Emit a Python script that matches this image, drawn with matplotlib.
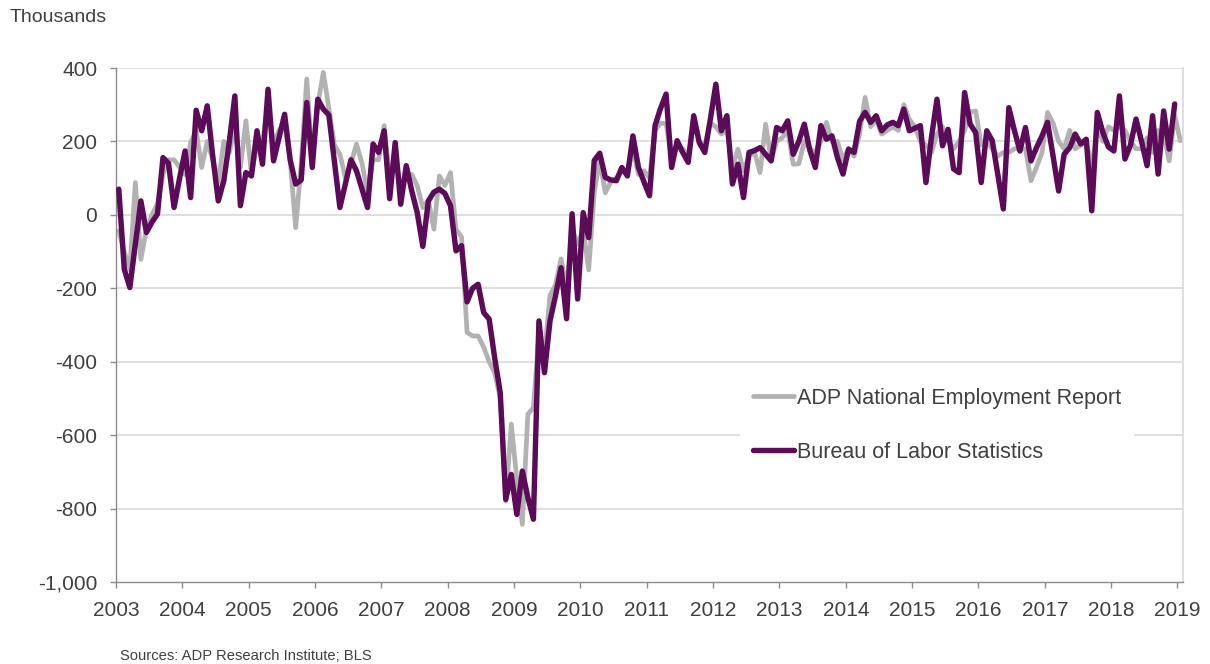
import matplotlib
matplotlib.use("Agg")
import matplotlib.pyplot as plt
from matplotlib.ticker import FixedLocator, FixedFormatter
import numpy as np

plt.rcParams['font.family'] = ['Liberation Sans', 'DejaVu Sans']

# ---- data (thousands, monthly change) ----
start_year = 2003
bls = [
    70, -148, -198, -80, 38, -48, -20, 2, 156, 140, 20, 100,            # 2003
    174, 47, 285, 229, 297, 160, 38, 93, 200, 324, 25, 115,             # 2004
    106, 229, 138, 342, 147, 210, 274, 150, 84, 95, 306, 129,           # 2005
    315, 288, 272, 145, 20, 85, 150, 120, 70, 20, 193, 170,             # 2006
    229, 44, 197, 29, 134, 65, 5, -86, 38, 62, 70, 58,                  # 2007
    25, -98, -84, -237, -200, -189, -266, -284, -390, -484, -775, -707, # 2008
    -816, -698, -770, -829, -289, -430, -289, -220, -144, -283, 3, -229,# 2009
    6, -62, 148, 168, 102, 95, 93, 129, 106, 215, 129, 90,              # 2010
    52, 243, 290, 329, 129, 202, 170, 143, 270, 197, 170, 260,          # 2011
    356, 229, 270, 84, 138, 47, 170, 175, 183, 165, 147, 238,           # 2012
    229, 256, 165, 200, 247, 176, 129, 243, 206, 215, 156, 111,         # 2013
    179, 170, 255, 279, 252, 270, 229, 245, 252, 243, 288, 229,         # 2014
    236, 243, 88, 211, 315, 188, 233, 125, 115, 333, 247, 224,          # 2015
    88, 229, 202, 110, 16, 292, 230, 174, 238, 147, 183, 215,           # 2016
    252, 160, 65, 165, 183, 220, 193, 206, 11, 279, 225, 185,           # 2017
    174, 324, 152, 190, 261, 200, 134, 270, 111, 283, 179, 302,         # 2018
]
adp = [
    -44, -100, -150, 88, -121, -40, 0, 30, 110, 150, 150, 130,          # 2003
    110, 197, 230, 129, 200, 150, 90, 200, 170, 240, 130, 256,          # 2004
    110, 190, 200, 300, 193, 230, 250, 150, -35, 140, 370, 150,         # 2005
    300, 388, 290, 190, 165, 100, 140, 193, 140, 60, 150, 150,          # 2006
    243, 100, 150, 80, 110, 110, 79, 20, 40, -39, 106, 80,              # 2007
    115, -40, -60, -320, -330, -330, -360, -400, -430, -500, -780, -570,# 2008
    -720, -843, -543, -525, -320, -380, -220, -190, -120, -200, -40, -80,# 2009
    -40, -150, 60, 150, 60, 90, 100, 120, 110, 180, 110, 120,           # 2010
    100, 230, 250, 248, 150, 190, 180, 160, 250, 200, 190, 250,         # 2011
    240, 220, 230, 130, 179, 120, 160, 170, 115, 247, 150, 200,         # 2012
    210, 230, 138, 139, 200, 180, 170, 200, 252, 200, 200, 150,         # 2013
    180, 160, 220, 320, 240, 260, 220, 230, 240, 230, 300, 260,         # 2014
    240, 200, 190, 170, 220, 240, 200, 180, 200, 230, 280, 283,         # 2015
    190, 200, 180, 160, 170, 170, 180, 180, 180, 93, 129, 170,          # 2016
    279, 250, 200, 180, 230, 180, 190, 200, 130, 240, 200, 240,         # 2017
    230, 240, 230, 200, 180, 180, 210, 170, 230, 220, 147, 271,         # 2018
    202,                                                                # 2019
]
years = list(range(2003, 2020))
yticks = [400, 200, 0, -200, -400, -600, -800, -1000]
ytick_labels = ["400", "200", "0", "-200", "-400", "-600", "-800", "-1,000"]
labels = ["ADP National Employment Report", "Bureau of Labor Statistics"]

x_bls = start_year + (np.arange(len(bls)) + 0.5) / 12.0
x_adp = start_year + (np.arange(len(adp)) + 0.5) / 12.0

W, H = 1210, 664
fig = plt.figure(figsize=(W / 100, H / 100), dpi=100)
ax = fig.add_axes([116 / W, 1 - 582 / H, (1183 - 116) / W, (582 - 68) / H])

grey = '#b2b2b2'
purple = '#5c0b59'
txt = '#404040'
axis_col = '#8c8c8c'

for y in yticks[:-1]:
    ax.axhline(y, color='#d9d9d9', lw=1.2, zorder=0)

ax.plot(x_adp, adp, color=grey, lw=3.4, solid_joinstyle='round',
        solid_capstyle='round', label=labels[0], zorder=2)
ax.plot(x_bls, bls, color=purple, lw=3.9, solid_joinstyle='round',
        solid_capstyle='round', label=labels[1], zorder=3)

ax.set_xlim(2003, 2019 + 1 / 12)
ax.set_ylim(-1000, 400)

ax.yaxis.set_major_locator(FixedLocator(yticks))
ax.yaxis.set_major_formatter(FixedFormatter(ytick_labels))
ax.xaxis.set_major_locator(FixedLocator(years))
ax.xaxis.set_major_formatter(FixedFormatter([str(y) for y in years]))

ax.spines['top'].set_visible(False)
ax.spines['right'].set_color('#d9d9d9')
ax.spines['right'].set_linewidth(1.2)
ax.spines['left'].set_color(axis_col)
ax.spines['bottom'].set_color(axis_col)
ax.spines['left'].set_linewidth(1.0)
ax.spines['bottom'].set_linewidth(1.0)

ax.tick_params(axis='y', direction='out', length=4.5, width=1.0, color=axis_col,
               labelsize=15, labelcolor=txt, pad=9)
ax.tick_params(axis='x', direction='out', length=4.5, width=1.0, color=axis_col,
               labelsize=15, labelcolor=txt, pad=9)

leg = ax.legend(loc='center left', bbox_to_anchor=(0.585, 0.305), frameon=True,
                facecolor='white', edgecolor='none', framealpha=1.0,
                fontsize=15.5, handlelength=1.9, handletextpad=0.12,
                labelspacing=1.55, borderpad=0.6, borderaxespad=0.0)
for t in leg.get_texts():
    t.set_color(txt)

fig.text(10 / W, 1 - 18 / H, "Thousands", fontsize=14, color=txt,
         ha='left', va='center')
fig.text(120 / W, 1 - 656 / H, "Sources: ADP Research Institute; BLS",
         fontsize=10.6, color=txt, ha='left', va='center')

fig.savefig("out.png", dpi=100)
